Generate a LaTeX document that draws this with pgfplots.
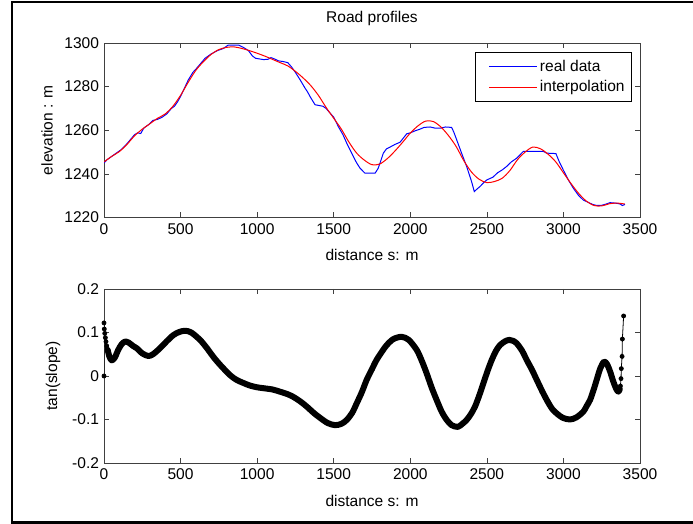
\documentclass[border=0pt]{standalone}
\usepackage{fontspec}
\setmainfont{Liberation Sans}
\usepackage{pgfplots}
\pgfplotsset{compat=1.18}

% matlab-like axis look shared by both panels
\pgfplotsset{
  mlab/.style={
    scale only axis,
    width=536bp,
    xmin=0, xmax=3500,
    xtick={0,500,...,3500},
    xticklabels={0,500,1000,1500,2000,2500,3000,3500},
    tick align=inside,
    major tick length=5bp,
    axis line style={black!75, line width=0.7bp},
    every tick/.style={black!75, line width=0.7bp},
    font=\fontsize{15.6}{18}\selectfont,
    xticklabel style={yshift=-2.5bp},
    yticklabel style={xshift=-1.5bp},
    xlabel={distance s: m},
    xlabel style={at={(axis description cs:0.5,0)}, anchor=base, yshift=-43bp},
    scaled ticks=false,
  }
}

\begin{document}
\begin{tikzpicture}
\useasboundingbox (0,0) rectangle (693bp,524bp);
\draw[line width=2bp] (11.5bp,1.5bp) rectangle (695bp,521.5bp);

% top panel: elevation
\begin{axis}[mlab,
  at={(104bp,306.5bp)}, anchor=south west,
  height=174.5bp,
  ymin=1220, ymax=1300,
  ytick={1220,1240,1260,1280,1300},
  yticklabels={1220,1240,1260,1280,1300},
  ylabel={elevation : m},
  ylabel style={at={(axis description cs:0,0.5)}, anchor=center, yshift=57bp},
  title={Road profiles},
  title style={at={(axis description cs:0.5,1)}, anchor=base, yshift=15bp},
  legend style={at={(1,1)}, anchor=north east, xshift=-8bp, yshift=-8.5bp,
    draw=black, line width=0.8bp, fill=white, inner xsep=5bp, inner ysep=6bp,
    row sep=4bp, cells={anchor=west}},
  legend image code/.code={\path (-9bp,0bp); \draw[#1] (0bp,0bp) -- (48bp,0bp);},
]
\addplot[blue, line width=1bp] coordinates {
(0,1245) (20,1246.5) (50,1248) (80,1249.5) (110,1251) (140,1253) (170,1255.5)
(200,1258) (220,1258.8) (240,1258.5) (260,1261) (290,1262.5) (320,1264.5)
(350,1265) (380,1266) (410,1267.5) (440,1270) (460,1271) (480,1273) (500,1275.5)
(520,1278.5) (550,1283) (580,1286.5) (600,1288) (630,1290.5) (660,1293)
(700,1295) (740,1296.5) (780,1297.5) (810,1299) (880,1299) (910,1298)
(943,1296.5) (970,1294) (990,1293) (1040,1292.4) (1070,1292.5) (1090,1293.3)
(1110,1292.8) (1140,1291.8) (1170,1291.5) (1200,1291) (1225,1289) (1250,1286.5)
(1280,1283.2) (1312,1279.4) (1330,1277.5) (1345,1275.5) (1378,1271.7)
(1430,1271) (1450,1270) (1476,1267.9) (1500,1266) (1530,1261.7) (1560,1258)
(1585,1254.1) (1610,1250.5) (1628,1248) (1650,1245) (1672,1242.6)
(1704,1240.3) (1770,1240.3) (1790,1242.5) (1802,1244.9) (1824,1249.5)
(1845,1251.5) (1868,1252.3) (1900,1253.5) (1933,1254.5) (1950,1256)
(1977,1258.4) (2000,1258.8) (2030,1259.7) (2063,1260.5) (2090,1261.3)
(2130,1261.5) (2160,1261) (2200,1261) (2230,1261.5) (2270,1261.3) (2285,1259)
(2303,1255.6) (2335,1249.5) (2368,1243.4) (2400,1236.5) (2418,1231.9)
(2435,1233) (2455,1234.2) (2480,1236) (2499,1237.2) (2540,1238.5) (2570,1240.5)
(2600,1241.8) (2629,1243.4) (2660,1245.5) (2695,1247.2) (2720,1249)
(2738,1250.3) (2800,1250.3) (2869,1250.3) (2890,1249.5) (2951,1249.3)
(2970,1246) (2999,1241.8) (3030,1237.5) (3065,1233.4) (3100,1230) (3130,1228)
(3160,1227) (3190,1226) (3217,1225.5) (3250,1225.6) (3280,1226.2) (3304,1226.8)
(3340,1226.6) (3370,1226.2) (3385,1225.5) (3402,1226)
};
\addlegendentry{real data}
\addplot[red, line width=1bp, smooth] coordinates {
(0,1245.5) (50,1248) (100,1250.2) (150,1253.5) (200,1257.5) (250,1260.5)
(300,1263) (350,1265.5) (400,1267.5) (450,1271) (500,1276) (550,1282)
(600,1287.5) (650,1291.5) (700,1294.8) (750,1297) (800,1298) (850,1298.2)
(900,1297.5) (950,1296.5) (1000,1295.3) (1050,1294) (1100,1292.5) (1150,1291)
(1200,1289.5) (1250,1287) (1300,1284) (1350,1280.5) (1400,1276) (1450,1270.5)
(1500,1265.5) (1550,1260.5) (1600,1254.5) (1650,1249.5) (1700,1246.3)
(1750,1244.2) (1800,1244.5) (1850,1247) (1900,1250.5) (1950,1254.5)
(2000,1258.7) (2050,1262) (2100,1264.2) (2150,1264) (2200,1261.5)
(2250,1257.5) (2300,1252.5) (2350,1246) (2400,1240.8) (2450,1237.5)
(2500,1236) (2550,1236.5) (2600,1238) (2650,1241.5) (2700,1246.5) (2750,1250)
(2800,1252.3) (2850,1251.5) (2900,1249) (2950,1245.5) (3000,1240.5)
(3050,1235.5) (3100,1231) (3150,1227.5) (3200,1225.5) (3250,1225.3)
(3300,1226.3) (3350,1226.6) (3400,1226.2)
};
\addlegendentry{interpolation}
\end{axis}

% bottom panel: slope
\begin{axis}[mlab,
  at={(104bp,61bp)}, anchor=south west,
  height=174bp,
  ymin=-0.2, ymax=0.2,
  ytick={-0.2,-0.1,0,0.1,0.2},
  yticklabels={-0.2,-0.1,0,0.1,0.2},
  ylabel={tan(slope)},
  ylabel style={at={(axis description cs:0,0.5)}, anchor=center, yshift=51bp},
]
\addplot[black, line width=6bp, line cap=round, line join=round, smooth] coordinates {
(24,0.06) (35,0.045) (50,0.036) (70,0.042) (93,0.06) (115,0.073) (137,0.079)
(160,0.077) (190,0.069) (213,0.064) (250,0.052) (289,0.046) (320,0.05)
(366,0.064) (410,0.08) (453,0.094) (490,0.101) (529,0.104) (570,0.1)
(627,0.083) (670,0.065) (714,0.044) (760,0.025) (823,0.002) (866,-0.009)
(910,-0.016) (953,-0.022) (1000,-0.026) (1040,-0.028) (1100,-0.031)
(1149,-0.036) (1200,-0.042) (1236,-0.048) (1280,-0.058) (1323,-0.07)
(1370,-0.085) (1410,-0.096) (1460,-0.108) (1508,-0.113) (1550,-0.11)
(1585,-0.101) (1620,-0.085) (1650,-0.063) (1685,-0.036) (1715,-0.009)
(1750,0.016) (1780,0.037) (1815,0.056) (1846,0.071) (1890,0.085) (1944,0.09)
(1990,0.083) (2042,0.06) (2075,0.035) (2107,0.006) (2140,-0.027) (2172,-0.055)
(2205,-0.082) (2238,-0.101) (2270,-0.113) (2310,-0.117) (2340,-0.11)
(2368,-0.101) (2395,-0.088) (2423,-0.07) (2450,-0.045) (2477,-0.017)
(2505,0.012) (2532,0.037) (2560,0.058) (2586,0.071) (2620,0.08) (2647,0.083)
(2670,0.081) (2695,0.075) (2730,0.058) (2760,0.037) (2795,0.014) (2826,-0.009)
(2860,-0.034) (2891,-0.055) (2925,-0.075) (2956,-0.086) (2995,-0.096)
(3043,-0.1) (3085,-0.095) (3130,-0.082) (3150,-0.07) (3174,-0.055)
(3196,-0.033) (3217,-0.009) (3240,0.017) (3265,0.033) (3285,0.027)
(3305,0.01) (3325,-0.012) (3345,-0.03) (3359,-0.036) (3368,-0.03)
};
\addplot[black, line width=0.8bp, mark=*, mark size=2bp] coordinates {
(0,0) (0,0.122) (2,0.108) (5,0.098) (9,0.088) (13,0.079) (18,0.069) (24,0.06) (30,0.052)
};
\addplot[black, line width=0.8bp, mark=*, mark size=2bp] coordinates {
(3365,-0.034) (3372,-0.023) (3376,-0.006) (3378,0.017) (3383,0.045) (3385,0.085) (3393,0.138)
};
\end{axis}
\end{tikzpicture}
\end{document}
